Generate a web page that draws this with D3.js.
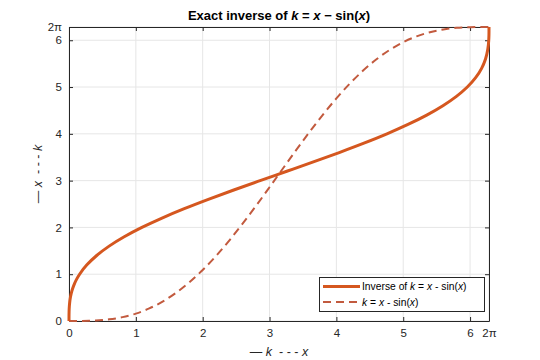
<!DOCTYPE html>
<html>
<head>
<meta charset="utf-8">
<script src="https://cdn.jsdelivr.net/npm/d3@7"></script>
<style>
  html, body { margin: 0; padding: 0; background: #fff; }
  svg { display: block; font-family: "Liberation Sans", Arial, Helvetica, sans-serif; }
  text { white-space: pre; }
</style>
</head>
<body>
<svg id="chart" width="540" height="360"></svg>
<script>
const xValues = [0, 0.025, 0.05, 0.1, 0.2, 0.3, 0.4, 0.5, 0.6, 0.7, 0.8, 0.9, 1.0, 1.2, 1.4, 1.6, 1.8, 2.0, 2.2, 2.4, 2.6, 2.8, 3.0, 3.2, 3.4, 3.6, 3.8, 4.0, 4.2, 4.4, 4.6, 4.8, 5.0, 5.2, 5.4, 5.6, 5.8, 6.0, 6.1, 6.2, 6.25, 6.2832];
const kValues = [0, 0.0000026, 0.0000208, 0.000167, 0.001331, 0.00448, 0.010582, 0.020574, 0.035358, 0.055782, 0.082644, 0.116673, 0.158529, 0.267961, 0.41455, 0.600426, 0.826152, 1.090703, 1.391504, 1.724537, 2.084499, 2.465012, 2.85888, 3.258374, 3.655541, 4.04252, 4.411858, 4.756802, 5.071576, 5.351602, 5.593691, 5.796165, 5.958924, 6.083455, 6.172764, 6.231267, 6.264602, 6.279415, 6.282163, 6.283089, 6.283179, 6.2832];
const tickValues = [0, 1, 2, 3, 4, 5, 6, 2 * Math.PI];
const tickLabels = ["0", "1", "2", "3", "4", "5", "6", "2\u03c0"];
const seriesNames = ["Inverse of k = x - sin(x)", "k = x - sin(x)"];

const svg = d3.select("#chart");
const L = 69, R = 489, T = 27, B = 321;
const xs = d3.scaleLinear().domain([0, 2 * Math.PI]).range([L, R]);
const ys = d3.scaleLinear().domain([0, 2 * Math.PI]).range([B, T]);

const solidColor = "#D5571F";
const dashColor = "#C25A3E";
const axisColor = "#262626";

// grid
const grid = svg.append("g");
tickValues.forEach(v => {
  grid.append("line").attr("x1", xs(v)).attr("x2", xs(v)).attr("y1", T).attr("y2", B)
    .attr("stroke", "#e6e6e6").attr("stroke-width", 1);
  grid.append("line").attr("x1", L).attr("x2", R).attr("y1", ys(v)).attr("y2", ys(v))
    .attr("stroke", "#e6e6e6").attr("stroke-width", 1);
});

// axes
const fmt = (d, i) => tickLabels[i];
const xAxis = svg.append("g").attr("transform", `translate(0,${B})`)
  .call(d3.axisBottom(xs).tickValues(tickValues).tickFormat(fmt).tickSizeInner(-4).tickSizeOuter(0).tickPadding(8));
const xAxisTop = svg.append("g").attr("transform", `translate(0,${T})`)
  .call(d3.axisTop(xs).tickValues(tickValues).tickFormat("").tickSizeInner(-4).tickSizeOuter(0));
const yAxis = svg.append("g").attr("transform", `translate(${L},0)`)
  .call(d3.axisLeft(ys).tickValues(tickValues).tickFormat(fmt).tickSizeInner(-4).tickSizeOuter(0).tickPadding(7));
const yAxisRight = svg.append("g").attr("transform", `translate(${R},0)`)
  .call(d3.axisRight(ys).tickValues(tickValues).tickFormat("").tickSizeInner(-4).tickSizeOuter(0));
[xAxis, xAxisTop, yAxis, yAxisRight].forEach(g => {
  g.select(".domain").attr("stroke", axisColor).attr("stroke-width", 1);
  g.selectAll(".tick line").attr("stroke", axisColor);
  g.selectAll("text").attr("fill", axisColor).style("font-size", "11.5px")
    .style("font-family", "'Liberation Sans', Arial, sans-serif");
});

// clip
svg.append("clipPath").attr("id", "clip").append("rect")
  .attr("x", L - 2).attr("y", T - 2).attr("width", R - L + 4).attr("height", B - T + 4);

const pts = xValues.map((x, i) => ({ x: x, k: kValues[i] }));

// dashed: k vs x
svg.append("path").datum(pts)
  .attr("clip-path", "url(#clip)")
  .attr("fill", "none").attr("stroke", dashColor).attr("stroke-width", 2)
  .attr("stroke-dasharray", "8,5")
  .attr("d", d3.line().x(d => xs(d.x)).y(d => ys(d.k)).curve(d3.curveMonotoneX));

// solid: x vs k (inverse)
svg.append("path").datum(pts)
  .attr("clip-path", "url(#clip)")
  .attr("fill", "none").attr("stroke", solidColor).attr("stroke-width", 3)
  .attr("stroke-linejoin", "round")
  .attr("d", d3.line().x(d => xs(d.k)).y(d => ys(d.x)).curve(d3.curveMonotoneY));

// title
const title = svg.append("text").attr("x", (L + R) / 2).attr("y", 20)
  .attr("text-anchor", "middle").attr("fill", "#000")
  .style("font-size", "13px").style("font-weight", "bold");
title.append("tspan").text("Exact inverse of ");
title.append("tspan").style("font-style", "italic").text("k");
title.append("tspan").text(" = ");
title.append("tspan").style("font-style", "italic").text("x");
title.append("tspan").text(" \u2212 sin(");
title.append("tspan").style("font-style", "italic").text("x");
title.append("tspan").text(")");

// x label
const xl = svg.append("text").attr("x", (L + R) / 2).attr("y", 356)
  .attr("text-anchor", "middle").attr("fill", axisColor).style("font-size", "12.5px");
xl.append("tspan").text("\u2014 ");
xl.append("tspan").style("font-style", "italic").text("k");
xl.append("tspan").text("  - - - ");
xl.append("tspan").style("font-style", "italic").text("x");

// y label
const yl = svg.append("text").attr("transform", `translate(42,${(T + B) / 2}) rotate(-90)`)
  .attr("text-anchor", "middle").attr("fill", axisColor).style("font-size", "12.5px");
yl.append("tspan").text("\u2014 ");
yl.append("tspan").style("font-style", "italic").text("x");
yl.append("tspan").text("  - - - ");
yl.append("tspan").style("font-style", "italic").text("k");

// legend
const lg = svg.append("g");
lg.append("rect").attr("x", 319.5).attr("y", 277.5).attr("width", 165).attr("height", 34)
  .attr("fill", "#fff").attr("stroke", axisColor).attr("stroke-width", 1);
const rows = [
  { y: 286.5, color: solidColor, w: 3, dash: null },
  { y: 302, color: dashColor, w: 2, dash: "8,5" }
];
rows.forEach((r, i) => {
  const ln = lg.append("line").attr("x1", 323).attr("x2", 360).attr("y1", r.y).attr("y2", r.y)
    .attr("stroke", r.color).attr("stroke-width", r.w);
  if (r.dash) ln.attr("stroke-dasharray", r.dash);
  const t = lg.append("text").attr("x", 362).attr("y", r.y + 3.8).attr("fill", "#000")
    .style("font-size", "10.3px");
  const parts = seriesNames[i].split(/([kx])/);
  parts.forEach(p => {
    if (p === "k" || p === "x") t.append("tspan").style("font-style", "italic").text(p);
    else if (p.length) t.append("tspan").text(p);
  });
});
</script>
</body>
</html>
